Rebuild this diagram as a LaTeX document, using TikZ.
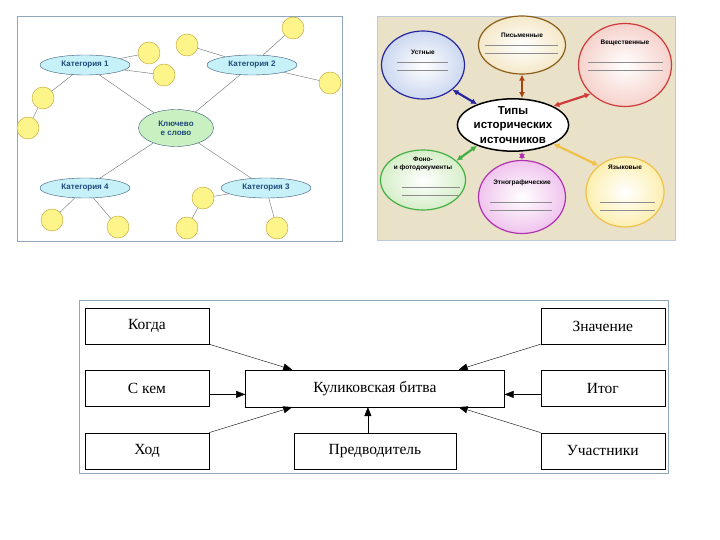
\documentclass[tikz,border=0pt]{standalone}
\usepackage{fontspec}
\setmainfont{Liberation Serif}
\setsansfont{Liberation Sans}
\usetikzlibrary{shapes,arrows.meta,positioning}

\definecolor{frameline}{HTML}{8FA6BC}
\definecolor{catfill}{HTML}{C6F1F9}
\definecolor{catline}{HTML}{3C5A78}
\definecolor{cattext}{HTML}{1F4A7A}
\definecolor{keyfill}{HTML}{C8F0C0}
\definecolor{dotfill}{HTML}{FDF58A}
\definecolor{dotline}{HTML}{C0A030}
\definecolor{tieline}{HTML}{6A7070}
\definecolor{parch}{HTML}{E9E1C8}
\definecolor{oralline}{HTML}{2626A0}
\definecolor{oralfill}{HTML}{CCD8F0}
\definecolor{writline}{HTML}{8A5E18}
\definecolor{writfill}{HTML}{F4E8C8}
\definecolor{thingline}{HTML}{D03A3A}
\definecolor{thingfill}{HTML}{F6D2CC}
\definecolor{photoline}{HTML}{44B044}
\definecolor{photofill}{HTML}{D6EEC8}
\definecolor{ethline}{HTML}{B032B0}
\definecolor{ethfill}{HTML}{F0C4EE}
\definecolor{langline}{HTML}{F0C04A}
\definecolor{langfill}{HTML}{FCEFB0}
\definecolor{ruleline}{HTML}{8C8C8C}

\begin{document}
\begin{tikzpicture}[%
    x=1pt, y=-1pt,                       % pixel grid, y going down
    >={Triangle[length=9pt,width=7pt]},  % Filled arrow heads
    node distance=26pt and 36pt,         % spacing of the lower boxes
    ]
% -------------------------------------------------
% Styles
\tikzset{
  cat/.style={ellipse, draw=catline, fill=catfill, minimum width=90pt,
    minimum height=20pt, inner sep=0pt, text=cattext,
    font=\sffamily\bfseries\fontsize{8}{9}\selectfont},
  key/.style={cat, fill=keyfill, minimum width=75pt, minimum height=37pt,
    align=center},
  dot/.style={circle, draw=dotline, fill=dotfill, minimum size=22pt,
    inner sep=0pt},
  tie/.style={draw=tieline},
  src/.style={ellipse, line width=1.2pt, inner sep=0pt, inner color=white},
  tiny/.style={font=\sffamily\bfseries\fontsize{6.5}{7.5}\selectfont,
    align=center, inner sep=0pt},
  rule/.style={draw=ruleline, thin},
  link/.style={{Latex[length=6pt,width=6pt]}-{Latex[length=6pt,width=6pt]},
    line width=2.2pt},
  box/.style={draw, rectangle, minimum width=124pt, minimum height=36pt,
    inner sep=0pt, font=\fontsize{15.5}{17}\selectfont},
  norm/.style={->, draw},
}
\useasboundingbox (0,0) rectangle (720,540);
\fill[white] (0,0) rectangle (720,540);

% -------------------------------------------------
% Top left: key word cluster
\draw[frameline, fill=white] (17,16) rectangle (342,241);
\node[cat] (c1) at (85,65) {Категория 1};
\node[cat] (c2) at (252,65) {Категория 2};
\node[key] (kw) at (176,128) {Ключево\\е слово};
\node[cat] (c4) at (85,188) {Категория 4};
\node[cat] (c3) at (266,188) {Категория 3};

\foreach \n/\p in {d1/{(149,53)}, d2/{(164,75)}, d3/{(43,98)},
    d4/{(28,128)}, d5/{(187,45)}, d6/{(293,28)}, d7/{(330,83)},
    d8/{(203,198)}, d9/{(187,228)}, d10/{(52,220)}, d11/{(118,227)},
    d12/{(277,228)}}
  \node[dot] (\n) at \p {};

\foreach \a/\b in {c1/d1, c1/d2, c1/d3, d3/d4, c1/kw, c2/kw, c2/d5,
    c2/d6, c2/d7, kw/c4, kw/c3, c4/d10, c4/d11, c3/d8, d8/d9, c3/d12}
  \draw[tie] (\a) -- (\b);

% -------------------------------------------------
% Top right: types of historical sources
\draw[frameline!60, fill=parch] (377,16) rectangle (675,240);
\node[src, draw=oralline, outer color=oralfill, minimum width=83pt,
  minimum height=68pt] (us) at (423,65) {};
\node[src, draw=writline, outer color=writfill, minimum width=87pt,
  minimum height=58pt] (pm) at (522,45) {};
\node[src, draw=thingline, outer color=thingfill, minimum width=93pt,
  minimum height=83pt] (vs) at (625,65) {};
\node[src, draw=photoline, outer color=photofill, minimum width=85pt,
  minimum height=60pt] (fd) at (423,180) {};
\node[src, draw=ethline, outer color=ethfill, minimum width=87pt,
  minimum height=73pt] (et) at (522,197) {};
\node[src, draw=langline, outer color=langfill, minimum width=78pt,
  minimum height=70pt] (ya) at (625,192) {};
\node[ellipse, draw, line width=1.5pt, fill=white, minimum width=100pt,
  minimum height=40pt, inner sep=0pt, align=center,
  font=\sffamily\bfseries\fontsize{11.5}{14.5}\selectfont]
  (tp) at (513,125) {Типы\\исторических\\источников};

\node[tiny] (tus) at (423,52) {Устные};
\node[tiny] (tpm) at (522,35) {Письменные};
\node[tiny] (tvs) at (625,43) {Вещественные};
\node[tiny] (tfd) at (423,164) {Фоно-\\и фотодокументы};
\node[tiny] (tet) at (522,183) {Этнографические};
\node[tiny] (tya) at (625,167) {Языковые};

\foreach \xa/\xb/\y in {397/448/62, 397/448/70, 485/558/45, 485/558/53,
    588/663/62, 588/663/70, 402/460/187, 402/460/195, 490/552/202,
    490/552/210, 600/655/202, 600/655/210}
  \draw[rule] (\xa,\y) -- (\xb,\y);

\draw[link, oralline] (tp.150) -- (us.320);
\draw[link, writline!70!red] ([xshift=9pt]tp.north) -- (pm.south);
\draw[link, thingline] (tp.25) -- (vs.220);
\draw[link, photoline] (tp.210) -- (fd.30);
\draw[link, ethline] ([xshift=9pt]tp.south) -- (et.north);
\draw[link, langline] (tp.335) -- (ya.135);

% -------------------------------------------------
% Bottom: Kulikovo battle scheme
\draw[frameline, fill=white] (79,300) rectangle (668,473);
\node[box] (kg) at (147,326) {Когда};
\node[box, below=of kg] (sk) {С кем};
\node[box, below=of sk] (hd) {Ход};
\node[box, minimum width=259pt, minimum height=37pt, right=of sk] (kb)
  {Куликовская битва};
\node[box, right=of kb] (it) {Итог};
\node[box, above=of it] (zn) {Значение};
\node[box, below=of it] (uc) {Участники};
\node[box, minimum width=162pt, below=of kb] (pr) {Предводитель};

\draw[norm] (kg.south east) -- ([xshift=47pt]kb.north west);
\draw[norm] ([yshift=-6pt]sk.east) -- ([yshift=-6pt]kb.west);
\draw[norm] (hd.north east) -- ([xshift=47pt]kb.south west);
\draw[norm] (zn.south west) -- ([xshift=-46pt]kb.north east);
\draw[norm] ([yshift=-6pt]it.west) -- ([yshift=-6pt]kb.east);
\draw[norm] (uc.north west) -- ([xshift=-46pt]kb.south east);
\draw[norm] ([xshift=-7pt]pr.north) -- ([xshift=-7pt]kb.south);

% -------------------------------------------------
\end{tikzpicture}
\end{document}
